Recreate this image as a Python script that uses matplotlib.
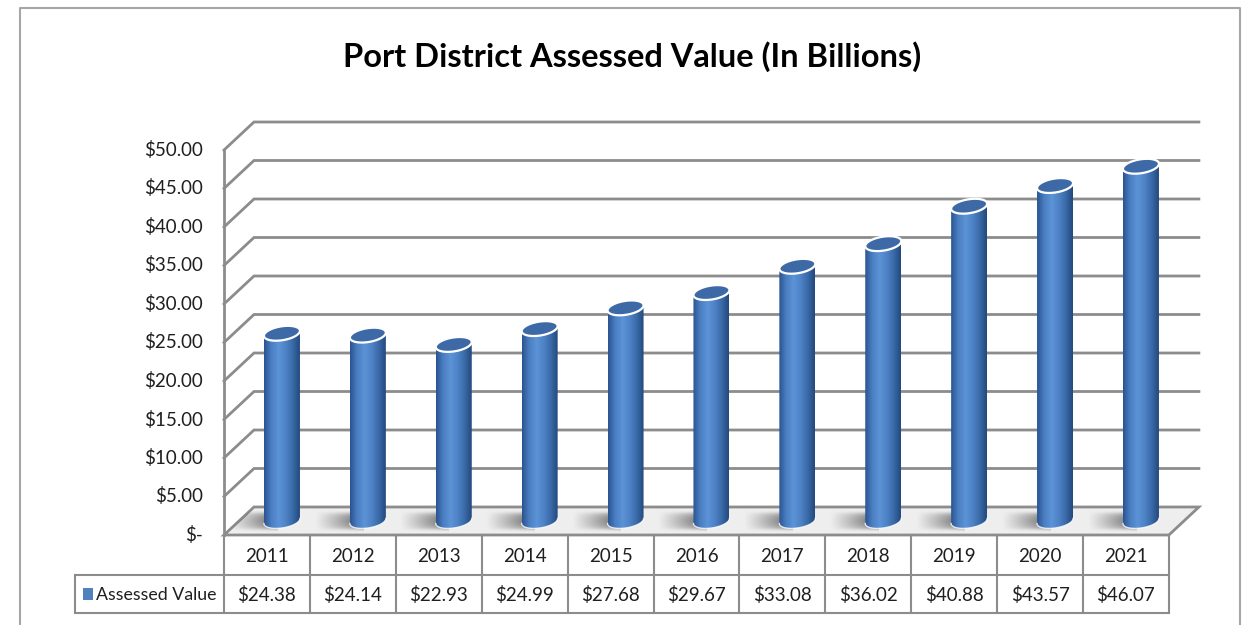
import numpy as np
import matplotlib
matplotlib.use("Agg")
import matplotlib.pyplot as plt
from matplotlib.patches import Polygon, Rectangle
from matplotlib.colors import LinearSegmentedColormap

plt.rcParams['font.family'] = ['Lato', 'DejaVu Sans']

years = ['2011', '2012', '2013', '2014', '2015', '2016',
         '2017', '2018', '2019', '2020', '2021']
values = [24.38, 24.14, 22.93, 24.99, 27.68, 29.67,
          33.08, 36.02, 40.88, 43.57, 46.07]
ticks = [0, 5, 10, 15, 20, 25, 30, 35, 40, 45, 50]
series_name = 'Assessed Value'
title = 'Port District Assessed Value (In Billions)'

W, H = 1244, 625
PX_CAT = 85.9      # pixels per category slot
PX_VAL = 7.7       # pixels per value unit
X0_PX = 224        # left front edge of plot (category -0.5)
Y0_PX = 535        # front floor line (value 0)


def px_x(px):
    return -0.5 + (px - X0_PX) / PX_CAT


def px_y(py):
    return (Y0_PX - py) / PX_VAL


DX = 30 / PX_CAT   # depth offset of back wall
DY = 28 / PX_VAL

GRID = '#8c8c8c'
BLUE = '#4f81bd'
TXT = '#1f1f1f'

fig = plt.figure(figsize=(W / 100, H / 100), dpi=100)
ax = fig.add_axes([0, 0, 1, 1])
ax.axis('off')

n = len(years)
left, right = -0.5, n - 0.5

# chart frame
ax.plot([px_x(20), px_x(20), px_x(1240), px_x(1240)],
        [px_y(625), px_y(8), px_y(8), px_y(625)],
        color='#a6a6a6', lw=1.5, zorder=1)

# back wall gridlines and side wall
for t in ticks[1:]:
    ax.plot([left, left + DX, right + DX], [t, t + DY, t + DY],
            color=GRID, lw=2, zorder=1, solid_joinstyle='miter')
ax.plot([left, left], [0, ticks[-1]], color=GRID, lw=2, zorder=1)

# floor
floor = Polygon([(left, 0), (right, 0), (right + DX, DY), (left + DX, DY)],
                closed=True, facecolor='#eeeeee', edgecolor=GRID, lw=2,
                zorder=2, joinstyle='miter')
ax.add_patch(floor)

# soft shadows on the floor, cast to the left of each column
shade = np.zeros((8, 64, 4))
shade[..., :3] = 0.35
ramp = np.linspace(0, 1, 64) ** 1.1
depth = np.sin(np.linspace(0, np.pi, 8)) ** 0.5
shade[..., 3] = 0.95 * depth[:, None] * ramp[None, :]
for i in range(n):
    cx = i + DX / 2
    im = ax.imshow(shade, extent=(cx - 0.62, cx - 0.05, DY * 0.1, DY * 0.85),
                   aspect='auto', interpolation='bicubic', zorder=3)
    im.set_clip_path(floor)

# cylinders
body_cmap = LinearSegmentedColormap.from_list(
    'cyl', ['#2a5390', '#4a7fc2', '#5c92d6', '#4f84c8', '#3a6aa8', '#24497e'])
grad = np.linspace(0, 1, 128)[None, :]
half_w = 18 / PX_CAT
ell_h = 7 / PX_VAL
tilt = 2.5 / PX_VAL


def ellipse_pts(cx, cy, t):
    return np.column_stack([cx + half_w * np.cos(t),
                            cy + ell_h * np.sin(t) + tilt * np.cos(t)])


for i, v in enumerate(values):
    cx = i + DX / 2
    y0 = DY / 2
    y1 = v + DY / 2
    base = ellipse_pts(cx, y0, np.linspace(np.pi, 2 * np.pi, 60))
    top = ellipse_pts(cx, y1, np.linspace(0, np.pi, 60))
    body = Polygon(np.vstack([base, top]), closed=True, facecolor='none',
                   edgecolor='none', zorder=4)
    ax.add_patch(body)
    im = ax.imshow(grad, cmap=body_cmap, aspect='auto',
                   extent=(cx - half_w, cx + half_w, y0 - 2 * ell_h, y1 + 2 * ell_h),
                   zorder=4)
    im.set_clip_path(body)
    ax.plot(base[:, 0], base[:, 1], color='white', lw=1.0, alpha=0.8, zorder=4)
    cap = Polygon(ellipse_pts(cx, y1, np.linspace(0, 2 * np.pi, 100)),
                  closed=True, facecolor='#3d6aa6', edgecolor='white',
                  lw=1.6, zorder=5)
    ax.add_patch(cap)

# value axis labels
for t in ticks:
    lab = '$-' if t == 0 else f'${t:.2f}'
    ax.text(px_x(203), t, lab, ha='right', va='center', fontsize=13.5,
            color=TXT)

# data table
row_mid = px_y(575)
row_bot = px_y(613)
leg_left = px_x(75)
tcol = '#8c8c8c'
ax.plot([leg_left, right], [row_mid, row_mid], color=tcol, lw=1.5)
ax.plot([leg_left, right], [row_bot, row_bot], color=tcol, lw=1.5)
ax.plot([leg_left, leg_left], [row_mid, row_bot], color=tcol, lw=1.5)
for k in range(n + 1):
    ax.plot([k - 0.5, k - 0.5], [0, row_bot], color=tcol, lw=1.5)

for i, (yr, v) in enumerate(zip(years, values)):
    ax.text(i, px_y(557), yr, ha='center', va='center', fontsize=13.5,
            color=TXT)
    ax.text(i, px_y(595), f'${v:.2f}', ha='center', va='center',
            fontsize=13.5, color=TXT)

ax.add_patch(Rectangle((px_x(83), px_y(600)), 10 / PX_CAT, 12 / PX_VAL,
                       facecolor=BLUE, edgecolor='none'))
ax.text(px_x(96), px_y(595), series_name, ha='left', va='center',
        fontsize=12.8, color=TXT)

ax.text(px_x(632), px_y(57), title, ha='center', va='center',
        fontsize=23.5, fontweight='bold', color='black')

ax.set_xlim(px_x(0), px_x(W))
ax.set_ylim(px_y(H), px_y(0))

fig.savefig('out.png', dpi=100)
